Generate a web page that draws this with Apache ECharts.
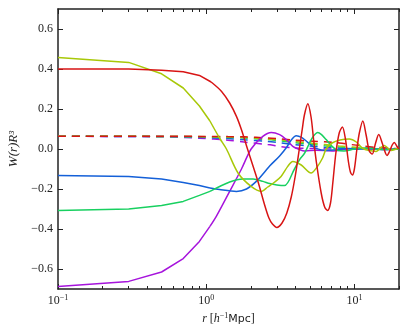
<!DOCTYPE html>
<html>
<head>
<meta charset="utf-8">
<script src="https://cdn.jsdelivr.net/npm/echarts@6/dist/echarts.min.js"></script>
<style>
  html, body { margin: 0; padding: 0; background: #fff; }
  #chart { width: 408px; height: 333px; }
</style>
</head>
<body>
<div id="chart"></div>
<script>
// W(r)R^3 against r [h^-1 Mpc]

// solid curves
const redR = [0.1, 0.3, 0.5, 0.7, 0.9, 1.08, 1.27, 1.44, 1.6, 1.73, 1.9, 2.23, 2.48, 2.65, 2.8, 3.0, 3.25, 3.5, 3.75, 4.0, 4.25, 4.45, 4.6, 4.85, 5.1, 5.3, 5.55, 5.97, 6.3, 6.6, 6.9, 7.15, 7.5, 7.9, 8.3, 8.7, 9.1, 9.4, 9.7, 10.0, 10.4, 10.8, 11.4, 12.0, 12.6, 13.2, 13.9, 14.6, 15.4, 16.2, 16.6, 17.3, 18.0, 18.6, 19.3, 20];
const redW = [0.400, 0.400, 0.394, 0.386, 0.368, 0.335, 0.288, 0.230, 0.163, 0.096, 0.0, -0.16, -0.28, -0.345, -0.375, -0.392, -0.37, -0.32, -0.24, -0.13, 0.0, 0.1, 0.17, 0.226, 0.16, 0.05, -0.07, -0.22, -0.29, -0.307, -0.27, -0.17, -0.02, 0.08, 0.11, 0.05, -0.06, -0.115, -0.13, -0.1, 0.0, 0.08, 0.14, 0.07, -0.01, -0.025, 0.03, 0.072, 0.03, -0.02, -0.032, -0.01, 0.02, 0.033, 0.015, 0.0];

const ygR = [0.1, 0.3, 0.5, 0.7, 0.9, 1.06, 1.23, 1.37, 1.64, 2.01, 2.36, 2.6, 2.9, 3.2, 3.55, 3.84, 4.38, 5.1, 5.6, 6.1, 6.45, 7.07, 8.0, 9.25, 10.3, 11.3, 12.6, 14.0, 15.9, 17.7, 20];
const ygW = [0.458, 0.433, 0.376, 0.305, 0.215, 0.14, 0.055, 0.0, -0.12, -0.187, -0.212, -0.19, -0.165, -0.137, -0.087, -0.062, -0.08, -0.12, -0.09, -0.045, 0.0, 0.03, 0.045, 0.05, 0.035, 0.005, -0.008, -0.012, 0.018, -0.007, 0.005];

const greenR = [0.1, 0.3, 0.5, 0.7, 0.9, 1.06, 1.44, 1.77, 2.07, 2.42, 2.68, 3.0, 3.38, 3.94, 4.27, 4.62, 4.98, 5.3, 5.66, 6.0, 6.45, 7.07, 7.6, 8.5, 10, 12, 15, 20];
const greenW = [-0.308, -0.30, -0.282, -0.262, -0.232, -0.212, -0.165, -0.15, -0.15, -0.162, -0.173, -0.18, -0.183, -0.10, -0.053, -0.02, 0.03, 0.065, 0.083, 0.072, 0.047, 0.013, -0.005, -0.01, 0.0, 0.005, -0.003, 0.0];

const blueR = [0.1, 0.3, 0.5, 0.7, 0.9, 1.06, 1.23, 1.6, 1.87, 2.18, 2.48, 2.68, 3.13, 3.5, 3.75, 4.05, 4.4, 4.73, 5.0, 5.5, 6.45, 7.5, 9.0, 11, 13, 16, 20];
const blueW = [-0.132, -0.137, -0.15, -0.167, -0.183, -0.195, -0.203, -0.212, -0.2, -0.162, -0.115, -0.085, -0.035, 0.01, 0.045, 0.066, 0.058, 0.04, 0.025, 0.003, -0.007, -0.004, 0.003, 0.0, 0.003, -0.002, 0.0];

const purpleR = [0.1, 0.3, 0.5, 0.7, 0.9, 1.06, 1.17, 1.44, 1.73, 2.01, 2.41, 2.75, 3.13, 3.47, 3.84, 4.27, 4.62, 5.5, 7.07, 9, 12, 16, 20];
const purpleW = [-0.687, -0.662, -0.615, -0.548, -0.462, -0.387, -0.337, -0.212, -0.10, 0.0, 0.063, 0.083, 0.072, 0.047, 0.013, -0.003, -0.01, -0.006, -0.01, 0.0, 0.002, -0.002, 0.0];

// dashed curves, all on one r grid
const dashR = [0.1, 0.5, 0.9, 1.4, 1.8, 2.6, 3.2, 3.9, 5.0, 6.3, 7.9, 10.8, 14.7, 20];
const dashRed = [0.0635, 0.0635, 0.063, 0.062, 0.061, 0.055, 0.05, 0.045, 0.04, 0.036, 0.03, 0.017, 0.007, 0.002];
const dashYg = [0.0635, 0.063, 0.062, 0.06, 0.058, 0.05, 0.045, 0.038, 0.03, 0.022, 0.015, 0.008, 0.003, 0.001];
const dashGreen = [0.0635, 0.063, 0.061, 0.058, 0.055, 0.047, 0.04, 0.032, 0.024, 0.016, 0.01, 0.005, 0.002, 0.0];
const dashBlue = [0.0635, 0.062, 0.058, 0.052, 0.046, 0.038, 0.03, 0.022, 0.015, 0.009, 0.005, 0.002, 0.001, 0.0];
const dashPurple = [0.0635, 0.061, 0.054, 0.044, 0.035, 0.022, 0.012, 0.006, 0.003, 0.001, 0.0, 0.0, 0.0, 0.0];

// ticks
const xMajor = [0.1, 1, 10];
const xMinor = [0.2, 0.3, 0.4, 0.5, 0.6, 0.7, 0.8, 0.9, 2, 3, 4, 5, 6, 7, 8, 9, 20];
const yTicks = [-0.6, -0.4, -0.2, 0.0, 0.2, 0.4, 0.6];

const RED = '#d81414';
const YG = '#a8c808';
const GREEN = '#18d060';
const BLUE = '#1460d8';
const PURPLE = '#a614dc';

const frame = '#222';
const serif = 'Liberation Serif';

const zip = (rs, ws) => rs.map((r, i) => [r, ws[i]]);

function line(data, color, dashed, smooth) {
  return {
    type: 'line',
    data: data,
    smooth: smooth,
    symbol: 'none',
    silent: true,
    lineStyle: { color: color, width: 1.5, type: dashed ? [8, 6] : 'solid' }
  };
}

// the coarse samples at small r are joined by straight segments,
// the oscillating part further out is drawn smooth
function solid(rs, ws, color) {
  const pts = zip(rs, ws);
  let k = 0;
  while (k + 1 < rs.length && rs[k + 1] <= 1.1) k++;
  return [
    line(pts.slice(0, k + 1), color, false, false),
    line(pts.slice(k), color, false, 0.3)
  ];
}

function xAx(pos, ticks, len, showLine, showLabel) {
  return {
    type: 'log',
    logBase: 10,
    min: 0.1,
    max: 20,
    position: pos,
    axisLine: { show: showLine, onZero: false, lineStyle: { color: frame, width: 1.5 } },
    axisTick: { show: true, inside: true, length: len, customValues: ticks, lineStyle: { color: frame, width: 1 } },
    axisLabel: { show: showLabel },
    splitLine: { show: false },
    minorTick: { show: false }
  };
}

const chart = echarts.init(document.getElementById('chart'));

const bottomMajor = xAx('bottom', xMajor, 5, true, true);
bottomMajor.axisLabel = {
  show: true,
  customValues: xMajor,
  margin: 5,
  formatter: v => {
    const e = Math.round(Math.log10(v));
    return '{b|10}{s|' + (e < 0 ? '\u2212' + (-e) : e) + '}';
  },
  rich: {
    b: { fontFamily: serif, fontSize: 12, lineHeight: 14, color: '#222' },
    s: { fontFamily: serif, fontSize: 8, lineHeight: 8, verticalAlign: 'top', color: '#222' }
  }
};
bottomMajor.name = '{i|r} [{i|h}{s|\u22121}{m|Mpc}]';
bottomMajor.nameLocation = 'middle';
bottomMajor.nameGap = 20;
bottomMajor.nameTextStyle = {
  fontFamily: serif,
  fontSize: 12,
  color: '#222',
  rich: {
    i: { fontFamily: serif, fontStyle: 'italic', fontSize: 12, lineHeight: 14, color: '#222' },
    s: { fontFamily: serif, fontSize: 8, lineHeight: 8, verticalAlign: 'top', color: '#222' },
    m: { fontFamily: 'DejaVu Sans', fontSize: 11, lineHeight: 14, color: '#222' }
  }
};

chart.setOption({
  animation: false,
  backgroundColor: '#fff',
  grid: { left: 58, right: 9, top: 9, bottom: 44, containLabel: false, outerBoundsMode: 'none' },
  xAxis: [
    bottomMajor,
    xAx('bottom', xMinor, 3, false, false),
    xAx('top', xMajor, 5, true, false),
    xAx('top', xMinor, 3, false, false)
  ],
  yAxis: [
    {
      type: 'value',
      min: -0.7,
      max: 0.7,
      position: 'left',
      axisLine: { show: true, onZero: false, lineStyle: { color: frame, width: 1.5 } },
      axisTick: { inside: true, length: 5, customValues: yTicks, lineStyle: { color: frame, width: 1 } },
      axisLabel: {
        customValues: yTicks,
        margin: 5,
        fontFamily: serif,
        fontSize: 12,
        color: '#222',
        formatter: v => (v < -1e-9 ? '\u2212' : '') + Math.abs(v).toFixed(1)
      },
      splitLine: { show: false },
      name: 'W(r)R\u00b3',
      nameLocation: 'middle',
      nameGap: 38,
      nameTextStyle: { fontFamily: serif, fontStyle: 'italic', fontSize: 13, color: '#222' }
    },
    {
      type: 'value',
      min: -0.7,
      max: 0.7,
      position: 'right',
      axisLine: { show: true, onZero: false, lineStyle: { color: frame, width: 1.5 } },
      axisTick: { inside: true, length: 5, customValues: yTicks, lineStyle: { color: frame, width: 1 } },
      axisLabel: { show: false },
      splitLine: { show: false }
    }
  ],
  series: [
    line(zip(dashR, dashPurple), PURPLE, true, 0.3),
    line(zip(dashR, dashBlue), BLUE, true, 0.3),
    line(zip(dashR, dashGreen), GREEN, true, 0.3),
    line(zip(dashR, dashYg), YG, true, 0.3),
    line(zip(dashR, dashRed), RED, true, 0.3),
    ...solid(purpleR, purpleW, PURPLE),
    ...solid(blueR, blueW, BLUE),
    ...solid(greenR, greenW, GREEN),
    ...solid(ygR, ygW, YG),
    ...solid(redR, redW, RED)
  ]
});
</script>
</body>
</html>
